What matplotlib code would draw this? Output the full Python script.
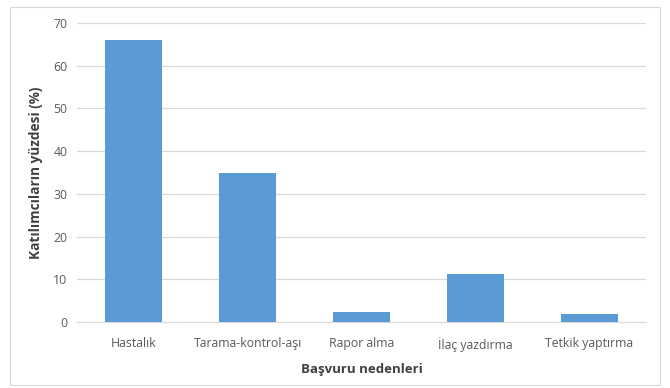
import matplotlib.pyplot as plt
from matplotlib.patches import Rectangle

categories = ['Hastalık', 'Tarama-kontrol-aşı', 'Rapor alma', 'İlaç yazdırma', 'Tetkik yaptırma']
values = [66.0, 35.0, 2.3, 11.3, 1.9]

plt.rcParams['font.family'] = ['Open Sans', 'DejaVu Sans']

fig = plt.figure(figsize=(6.7, 3.88), dpi=100)
ax = fig.add_axes([77/670, 1 - 322/388, 569/670, 299/388])

x = list(range(len(categories)))
ax.bar(x, values, width=0.5, color='#5B9BD5', zorder=3)

ax.set_ylim(0, 70)
ax.set_xlim(-0.5, len(categories) - 0.5)
ax.set_yticks(range(0, 71, 10))
ax.set_xticks(x)
ax.set_xticklabels(categories)
ax.yaxis.grid(True, color='#D9D9D9', linewidth=0.9, zorder=0)
ax.tick_params(axis='both', length=0, labelsize=8.8, labelcolor='#595959')
ax.tick_params(axis='x', pad=11)
ax.tick_params(axis='y', pad=7)
for s in ['top', 'right', 'left']:
    ax.spines[s].set_visible(False)
ax.spines['bottom'].set_color('#D9D9D9')

ax.set_ylabel('Katılımcıların yüzdesi (%)', fontsize=9.8, fontweight='bold', color='#404040', labelpad=7)
ax.set_xlabel('Başvuru nedenleri', fontsize=9.5, fontweight='bold', color='#404040', labelpad=8)

# chart border
fig.patches.append(Rectangle((10/670, 3/388), 650/670, 378/388, transform=fig.transFigure,
                             fill=False, edgecolor='#D9D9D9', linewidth=0.8))

fig.savefig('out.png', dpi=100)
